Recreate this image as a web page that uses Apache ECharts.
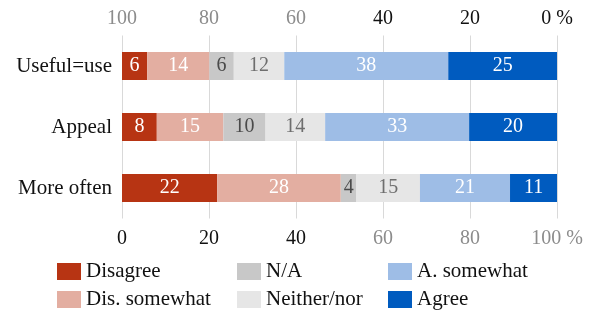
<!DOCTYPE html>
<html>
<head>
<meta charset="utf-8">
<script src="https://cdn.jsdelivr.net/npm/echarts@6/dist/echarts.min.js"></script>
<style>
html,body{margin:0;padding:0;background:#fff;}
#chart{width:592px;height:312px;}
</style>
</head>
<body>
<div id="chart"></div>
<script>
const categories = ['Useful=use', 'Appeal', 'More often'];
const seriesNames = ['Disagree', 'Dis. somewhat', 'N/A', 'Neither/nor', 'A. somewhat', 'Agree'];
const disagree     = [5.8, 8.0, 21.9];
const disSomewhat  = [14.3, 15.3, 28.4];
const na           = [5.6, 9.7, 3.6];
const neitherNor   = [11.6, 13.7, 14.6];
const aSomewhat    = [37.7, 33.1, 20.7];
const agree        = [25.0, 20.2, 10.8];
const bottomTicks  = [0, 20, 40, 60, 80, 100];
const topTicks     = [100, 80, 60, 40, 20, 0];

const colors = ['#b73413', '#e3aea1', '#c8c8c8', '#e6e6e6', '#9ebde6', '#005bbf'];
const labelColors = ['#ffffff', '#ffffff', '#4a4a4a', '#6e6e6e', '#ffffff', '#ffffff'];
const values = [disagree, disSomewhat, na, neitherNor, aSomewhat, agree];
const FONT = '"Liberation Serif", "DejaVu Serif", serif';

const chart = echarts.init(document.getElementById('chart'), null, {renderer: 'canvas'});

function tickFormatter(pctAt) {
  return function (v) {
    const txt = v === pctAt ? v + ' %' : String(v);
    return v >= 60 ? '{g|' + txt + '}' : '{b|' + txt + '}';
  };
}
const rich = {
  g: {color: '#8c8c8c', fontSize: 20, fontFamily: FONT},
  b: {color: '#111111', fontSize: 20, fontFamily: FONT}
};

const series = seriesNames.map((name, i) => ({
  name: name,
  type: 'bar',
  stack: 'total',
  barWidth: 28,
  xAxisIndex: 0,
  itemStyle: {color: colors[i]},
  label: {
    show: true,
    position: 'inside',
    color: labelColors[i],
    fontSize: 20,
    fontFamily: FONT,
    formatter: p => Math.round(p.value)
  },
  emphasis: {disabled: true},
  data: values[i]
}));

function legendCol(names, left) {
  return {
    data: names,
    orient: 'vertical',
    left: left,
    top: 261,
    height: 100,
    padding: 0,
    itemWidth: 24,
    itemHeight: 17,
    itemGap: 7,
    icon: 'rect',
    selectedMode: false,
    textStyle: {fontSize: 21, color: '#111', fontFamily: FONT}
  };
}

chart.setOption({
  animation: false,
  textStyle: {fontFamily: FONT},
  grid: {left: 122, right: 35, top: 35.5, bottom: 93.5, containLabel: false},
  legend: [
    legendCol(['Disagree', 'Dis. somewhat'], 57),
    legendCol(['N/A', 'Neither/nor'], 237),
    legendCol(['A. somewhat', 'Agree'], 388)
  ],
  xAxis: [
    {
      type: 'value', position: 'bottom', min: 0, max: 100, interval: 20,
      axisLine: {show: false}, axisTick: {show: false},
      splitLine: {show: true, lineStyle: {color: '#d9d9d9', width: 1}},
      axisLabel: {margin: 10, formatter: tickFormatter(100), rich: rich}
    },
    {
      type: 'value', position: 'top', inverse: true, min: 0, max: 100, interval: 20,
      axisLine: {show: false}, axisTick: {show: false}, splitLine: {show: false},
      axisLabel: {margin: 7, formatter: tickFormatter(0), rich: rich}
    }
  ],
  yAxis: {
    type: 'category', data: categories, inverse: true,
    axisLine: {show: false}, axisTick: {show: false},
    axisLabel: {color: '#111', fontSize: 21, fontFamily: FONT, margin: 10}
  },
  series: series
});
</script>
</body>
</html>
